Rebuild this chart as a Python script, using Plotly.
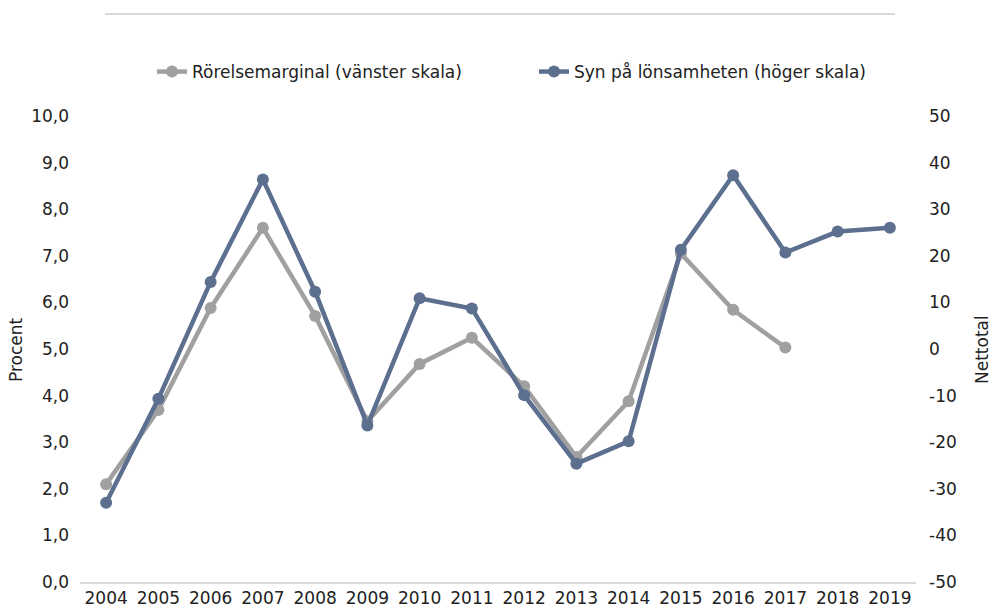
import plotly.graph_objects as go

years = [str(y) for y in range(2004, 2020)]
rorelsemarginal = [2.10, 3.69, 5.88, 7.60, 5.71, 3.45, 4.68, 5.24, 4.20, 2.68, 3.88, 7.05, 5.84, 5.03]
syn_lonsamhet = [-33.0, -10.7, 14.4, 36.4, 12.3, -16.4, 10.9, 8.7, -9.9, -24.6, -19.8, 21.3, 37.3, 20.7, 25.2, 26.0]

left_ticks = [i * 1.0 for i in range(0, 11)]
right_ticks = list(range(-50, 51, 10))
right_ticktext = [str(v) for v in right_ticks]

gray = "#A0A0A0"
blue = "#5C6F8F"
font = "DejaVu Sans"
fs = 17

L, R, T, B = 80, 916, 116, 582
W, H = R - L, B - T

fig = go.Figure()
fig.add_trace(go.Scatter(
    x=years[:len(rorelsemarginal)], y=rorelsemarginal,
    name="Rörelsemarginal (vänster skala)",
    mode="lines+markers",
    line=dict(color=gray, width=4.5),
    marker=dict(color=gray, size=12),
    yaxis="y",
))
fig.add_trace(go.Scatter(
    x=years, y=syn_lonsamhet,
    name="Syn på lönsamheten (höger skala)",
    mode="lines+markers",
    line=dict(color=blue, width=4.5),
    marker=dict(color=blue, size=12),
    yaxis="y2",
))

fig.update_layout(
    width=992, height=610,
    margin=dict(l=L, r=992 - R, t=T, b=610 - B, autoexpand=False),
    paper_bgcolor="white", plot_bgcolor="white",
    separators=", ",
    font=dict(family=font, size=fs, color="#222222"),
    showlegend=True,
    legend=dict(orientation="h", x=(152 - L) / W, xanchor="left", y=(B - 72) / H, yanchor="middle",
                font=dict(size=fs), entrywidth=337, entrywidthmode="pixels"),
    xaxis=dict(type="category", categoryorder="array", categoryarray=years,
               range=[-0.5, len(years) - 0.5],
               showgrid=False, showline=True, linecolor="#D9D9D9", linewidth=2,
               ticks="", tickfont=dict(size=fs), zeroline=False, ticklabelstandoff=0,
               automargin=False),
    yaxis=dict(range=[0, 10], tickvals=left_ticks, tickformat=".1f",
               showgrid=False, zeroline=False, showline=False, ticks="",
               tickfont=dict(size=fs), ticklabelstandoff=10, automargin=False),
    yaxis2=dict(range=[-50, 50], tickvals=right_ticks, ticktext=right_ticktext,
                overlaying="y", side="right", showgrid=False, zeroline=False,
                showline=False, ticks="", tickfont=dict(size=fs), ticklabelstandoff=12,
                automargin=False),
    shapes=[dict(type="line", xref="paper", yref="paper",
                 x0=(105 - L) / W, x1=(895 - L) / W,
                 y0=(B - 14) / H, y1=(B - 14) / H,
                 line=dict(color="#D9D9D9", width=2))],
    annotations=[
        dict(text="Procent", xref="paper", yref="paper", x=(16 - L) / W, y=(B - 350) / H,
             textangle=-90, showarrow=False, font=dict(size=fs), xanchor="center", yanchor="middle"),
        dict(text="Nettotal", xref="paper", yref="paper", x=(982 - L) / W, y=(B - 350) / H,
             textangle=-90, showarrow=False, font=dict(size=fs), xanchor="center", yanchor="middle"),
    ],
)

fig.write_html("out.html", config={"displayModeBar": False},
               post_script="document.body.style.margin='0';document.body.style.overflow='hidden';")
